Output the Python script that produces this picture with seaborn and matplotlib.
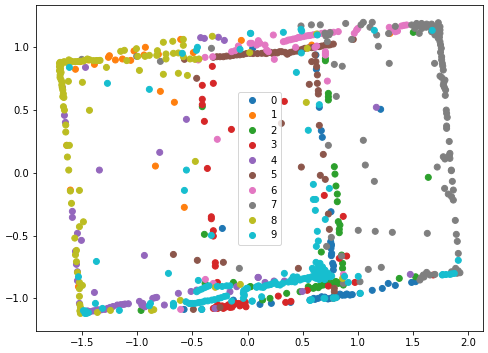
import matplotlib
matplotlib.use("Agg")
import matplotlib.pyplot as plt
import pandas as pd
import seaborn as sns

points_0 = [(.757,-.31),(.754,-.549),(.757,-.602),(.763,-.642),(.772,-.721),(.778,-.774),(1.131,-.936),(1.222,-.921),(1.276,-.881),(1.34,-.897),(1.488,-.873),(1.524,-.867),(.113,-1.048),(.216,-1.04),(.391,-1.032),(.566,-1.013),(.612,-1.008),(.672,-.987),(.748,-1.0),(.838,-.966),(.884,-.974),(.929,-.974),(1.02,-.96),(.624,.825),(.62,.939),(.651,.522),(1.207,.506),(.669,.336),(.678,.283),(.047,.992),(-.228,-.443),(-.575,-1.088),(-.415,-1.088),(-.128,-1.014),
            (.6,-1.0),(.64,-1.0),(.7,-.99),(.73,-1.005),(.78,-.985),(.81,-.99),(.86,-.975),(.9,-.965),(.95,-.97),(.76,-.66),(.78,-.74),(.76,-.58),(.76,-.57)]
points_1 = [(-1.56,.825),(-1.388,.864),(-1.261,.92),(-1.252,.933),(-1.198,.899),(-1.134,.907),(-1.059,.896),(-1.029,.971),(-.926,1.0),(-.938,.939),(-.808,.944),(-.606,1.063),(-.491,.958),(-.056,1.055),(-.79,.649),(-.663,.562),(-.835,.054),(-1.639,.219),(-1.443,.899),(-1.518,.886),(-1.606,-.137),(-.573,-.275),(-1.533,-.907),(1.29,1.11),(.582,1.018)]
points_2 = [(.706,.893),(.706,.911),(.733,.633),(.733,.606),(.733,.58),(.787,.049),(1.503,1.119),(-.41,.527),(1.639,-.036),(.793,-.01),(.802,-.105),(.814,-.169),(.814,-.23),(.823,-.389),(.838,-.416),(.832,-.45),(.832,-.477),(.669,-.631),(.853,-.655),(.862,-.721),(.862,-.761),(1.376,-.841),(1.524,-.828),(.355,-.96),(.204,-1.0),(.137,-1.013),(.029,-.907),(.551,-.907),(.597,-.92),(.642,-.915),(.687,-.894),(.733,-.881),(.778,-.881),(.823,-.881),(.476,-.947),(.869,-.894),(-.391,-.49),(-.965,-1.096),(-.128,-.873),(.023,-.907),(-.385,-.881),
            (.56,-.92),(.62,-.905),(.66,-.9),(.7,-.885),(.75,-.87),(.8,-.865),(.84,-.87)]
points_3 = [(-.319,.848),(-.41,.697),(-.31,.713),(-.41,.586),(-.41,.543),(-.391,.41),(-.146,.346),(-.364,.035),(.334,.569),(-.328,-.35),(-.328,-.366),(-.31,-.461),(-.31,-.504),(-.292,-.716),(-.292,-.743),(-.273,-.873),(-.31,-1.08),(-.249,-1.067),(-.189,-1.061),(-.128,-1.053),(-.083,-1.04),(-.038,-1.027),(-.219,-1.08),(-.159,-1.072),(-.014,-1.067),(.696,-.18),(.868,-.347),(.832,-.681),(.899,-.663),(.279,-.982),(.346,-1.032),(.394,-1.024),(.542,-.936),(.733,-.902),(.974,-.873),(1.684,-.814),
            (-.29,-1.07),(-.27,-1.05),(-.23,-1.06),(-.2,-1.07),(-.17,-1.05),(-.14,-1.07),(-.11,-1.04),(-.07,-1.06),(-.05,-1.05),(-.27,-1.08),(-.02,-1.03)]
points_4 = [(-.425,1.077),(-.391,1.071),(-.264,1.08),(-.21,1.055),(-1.469,.84),(-1.678,.681),(-1.66,.458),(-1.651,.402),(-.554,.426),(-.796,.163),(-1.343,.022),(1.168,.522),(-1.588,-.307),(-1.588,-.355),(-1.542,-.482),(-1.506,-.538),(-1.56,-.626),(-1.551,-.729),(-1.542,-.788),(-1.542,-.859),(-1.388,-.953),(-1.524,-1.04),(-.935,-.658),(-1.473,-1.106),(-1.427,-1.106),(-1.382,-1.098),(-1.337,-1.093),(-1.292,-1.088),(-1.246,-1.072),(-1.18,-1.053),(-1.125,-1.048),(-1.08,-1.043),(-.98,-1.024),(-.959,-1.053),(-.929,-1.067),(-.859,-1.0),(-.823,-.992),(-.754,-1.053),(-.627,-.96),(-.512,-.945),(-.461,-.934),(-.295,-1.08),(-.159,-.947),(-.098,-.907),(.095,-.833),(.098,-.833),(.159,-.873),(.24,-.862),(.334,-.862),(.497,-.945),(1.476,-.809),
            (-1.45,-1.1),(-1.4,-1.1),(-1.36,-1.09),(-1.32,-1.09),(-1.27,-1.08),(-1.22,-1.065),(-1.15,-1.05),(-1.11,-1.045),(-.95,-1.04),(-.94,-1.06),(-.84,-.995)]
points_5 = [(.128,.952),(.189,.957),(.249,.96),(.31,.965),(.37,.952),(.415,.965),(.476,.978),(.521,.992),(.582,.997),(.627,1.005),(.672,1.01),(.733,1.018),(.778,1.026),(.612,.939),(.582,.886),(.62,.886),(.627,.846),(.633,.78),(.56,.705),(.633,.713),(.642,.655),(.642,.628),(.959,1.063),(.307,.394),(.651,.378),(.687,.147),(.488,.046),(-.279,.925),(-.219,.925),(-.159,.93),(-.098,.939),(-.038,.944),(.023,.952),(-.572,.904),(-.461,.753),(.66,-.02),(.705,-.052),(.733,-.328),(.742,-.45),(.461,-.761),(.787,-.92),(.787,-.947),(.778,-1.0),(-.672,-.65),(-.455,-.697),(-.219,-.713),(-.491,-1.088),(-.249,-1.072),
            (.15,.955),(.17,.95),(.21,.96),(.23,.95),(.27,.955),(.29,.965),(.34,.96),(.36,.945),(.39,.96),(.44,.97),(.46,.97),(.5,.985),(.55,.995),(.6,1.0),(.65,1.005),(.7,1.015),(.75,1.02),(-.25,.925),(-.19,.93),(-.13,.935),(-.07,.94),(-.01,.95),(.05,.95),(.09,.95),(-.31,.92)]
points_6 = [(.234,1.098),(.243,.904),(.436,1.0),(.612,1.0),(.627,1.01),(.706,.965),(.706,.938),(.724,.731),(1.285,1.159),(1.397,1.17),(1.442,1.178),(.325,1.045),(.37,1.058),(.415,1.066),(.461,1.079),(.506,1.085),(.551,1.093),(.597,1.1),(.672,1.111),(.748,1.119),(.823,1.125),(.989,1.138),(.968,1.111),(1.34,1.124),(.098,1.045),(.083,1.018),(.113,1.032),(.159,1.018),(.174,.978),(.189,.965),(.038,1.032),(-.385,.92),(-.446,.899),(-.316,.925),(-.144,.965),(-.113,.973),(-.083,1.01),(.023,1.032),(.098,1.053),(-.274,.267),(-.382,-.849),(-.31,-.881),(-.606,-1.088),(.869,-.81),
            (.35,1.05),(.39,1.06),(.44,1.07),(.48,1.08),(.53,1.09),(.57,1.095),(.64,1.105),(.7,1.115),(.78,1.12),(1.0,1.15),(1.31,1.14),(1.36,1.13),(1.42,1.175),(.706,.95)]
points_7 = [(.579,1.179),(.485,1.17),(.66,1.179),(.89,1.19),(1.029,1.179),(1.05,1.199),(1.131,1.199),(1.11,1.16),(1.171,1.098),(.944,1.063),(1.279,1.11),(1.34,1.167),(1.186,1.008),(.724,1.045),(.702,1.111),(.748,1.117),(.787,.864),(.859,.849),(.805,.609),(1.285,.872),(1.696,.872),(.733,.219),(1.05,.259),(1.068,.062),(1.72,.046),(1.848,.022),(1.488,1.178),(1.533,1.19),(1.578,1.19),(1.624,1.185),(1.669,1.185),(1.73,1.196),(1.745,1.164),(1.745,1.138),(1.745,1.111),(1.73,1.071),(1.745,1.045),(1.757,.992),(1.76,.925),(1.766,.872),(1.775,.819),(1.745,.771),(1.79,.739),(1.775,.699),(1.796,.66),(1.793,.617),(1.802,.5),(1.805,.474),(1.811,.442),(1.805,.373),(1.805,.354),(1.829,.25),(1.775,.128),(1.835,.155),(1.835,.115),(1.669,1.124),(1.699,1.098),(1.557,1.111),(1.518,1.151),(1.15,-.068),(1.848,.017),(1.857,-.068),(1.787,-.124),(1.866,-.137),(1.82,-.169),(1.85,-.19),(1.866,-.217),(1.884,-.379),(1.893,-.49),(1.902,-.546),(1.911,-.642),(1.004,-.458),(1.158,-.466),(1.313,-.474),(1.63,-.482),(.76,-.514),(.717,-.586),(.853,-.663),(1.095,-.769),(1.213,-.753),(1.563,-.854),(1.594,-.814),(1.624,-.793),(1.654,-.814),(1.699,-.809),(1.85,-.788),(1.887,-.761),(1.926,-.796),(.869,-.881),(1.02,-.867),(-.074,-.761),(-.79,.888),(-1.005,.928),(-.327,.992),(-1.503,.904),
            (1.55,1.17),(1.6,1.17),(1.65,1.17),(1.7,1.16),(1.72,1.14),(1.7,1.13),(1.72,1.1),(1.74,1.08),(1.75,1.02),(1.75,.96),(1.76,.9),(1.77,.85),(1.76,.76),(1.78,.72),(1.785,.68),(1.62,1.16),(1.67,1.15),(1.58,1.15),(1.83,.14),(1.79,.11),(1.87,-.79),(1.91,-.78),(1.9,-.8),(1.6,-.83),(1.575,-.835),(.74,1.1),(.71,1.09)]
points_8 = [(-1.705,.872),(-1.705,.846),(-1.705,.814),(-1.699,.78),(-1.69,.74),(-1.684,.7),(-1.675,.66),(-1.675,.607),(-1.669,.527),(-1.66,.5),(-1.648,.381),(-1.648,.325),(-1.639,.219),(-1.615,.219),(-1.633,.126),(-1.621,.022),(-1.624,.729),(-1.497,.721),(-1.433,.498),(-1.669,.883),(-1.609,.883),(-1.563,.886),(-1.518,.888),(-1.452,.907),(-1.397,.894),(-1.337,.896),(-1.279,.84),(-1.15,.968),(-1.116,.976),(-1.095,.894),(-1.007,.989),(-.995,.928),(-.98,.816),(-.929,.928),(-.89,.936),(-.817,.973),(-.823,.936),(-.739,.947),(-.739,.907),(-.763,1.04),(-.678,1.048),(-.672,.952),(-.627,.955),(-.582,1.063),(-.582,1.016),(-.763,.785),(-.627,.793),(-.545,.776),(-.582,.925),(-.521,.907),(-.476,.904),(-.44,.907),(-.319,1.088),(.02,.958),(-.473,.091),(.542,.992),(.533,.561),(.627,1.106),(-1.606,-.145),(-1.524,-.14),(-1.596,-.243),(-1.488,-.39),(-1.524,-.429),(-1.566,-.52),(-1.551,-.618),(-1.56,-.653),(-1.551,-.708),(-1.542,-.793),(-1.524,-.873),(-1.497,-.897),(-1.524,-.923),(-1.524,-.984),(-1.515,-1.072),(-1.515,-1.12),(-1.361,-1.112),(-1.243,-1.096),(-.871,-1.096),(-.609,-1.016),(-.292,-.912),(-.065,-.889),(.862,-.841),
            (-1.7,.88),(-1.69,.86),(-1.695,.83),(-1.69,.8),(-1.7,.76),(-1.68,.72),(-1.66,.885),(-1.64,.88),(-1.6,.89),(-1.59,.885),(-1.54,.887),(-1.48,.895),(-1.43,.9),(-1.37,.895),(-1.35,.895),(-1.68,.68),(-1.67,.63),(-1.665,.6),(-1.62,.9),(-1.49,.89),(-1.52,-1.05),(-1.52,-1.1),(-1.51,-1.1),(-.85,-1.09)]
points_9 = [(-1.615,.84),(-1.27,.713),(-.89,.665),(-.591,.952),(-.454,1.0),(-.463,.976),(.026,1.111),(-.068,.984),(-.554,.022),(.029,1.111),(.325,1.119),(.485,1.143),(.491,1.13),(.633,1.098),(.488,.955),(.443,.8),(.651,.543),(.551,.339),(1.15,1.135),(1.675,1.135),(-.572,-.14),(-1.37,-.706),(-1.533,-.828),(-.717,-.801),(-.446,-.857),(-.328,-.498),(-1.379,-1.04),(-1.488,-1.098),(-1.473,-1.12),(-1.443,-1.114),(-1.315,-1.08),(-1.162,-1.096),(-.89,-1.059),(-.672,-1.04),(-.672,-1.061),(-.558,-1.027),(-.521,-1.04),(-.476,-1.04),(-.431,-1.032),(-.385,-1.021),(-.325,-1.014),(-.264,-1.0),(-.189,-.981),(-.415,-1.088),(-.461,-.947),(-.415,-.926),(-.37,-.907),(-.273,-.904),(-.189,-.9),(-.144,-1.022),(-.038,-.96),(-.038,-1.0),(-.008,-.92),(.041,-1.022),(.083,-.912),(.083,-.907),(.143,-.913),(.189,-.894),(.234,-.88),(.295,-.894),(.334,-.801),(.4,-.867),(.415,-.828),(.476,-.854),(.521,-.841),(.582,-.828),(.588,-.761),(.621,-.713),(.657,-.721),(.657,-.761),(.642,-.828),(.702,-.775),(.687,-.828),(.748,-.828),(.763,-.822),(.88,-.825),(.914,-.873),(1.004,-.825),(1.023,-.96),(1.766,-.814),(1.835,-.809),(1.875,-.801),(1.911,-.697),(.566,-1.016),(.693,-.999),(.778,-.995),(.802,-.995),(.043,-1.022),(.128,-.987),(.597,-.092),(.742,-.124),(.597,-.212),(.618,-.212),(.615,-.299),(.705,-.371),(.633,-.466),(.642,-.543),(.624,-.586),
            (.4,-.85),(.43,-.85),(.45,-.85),(.5,-.845),(.55,-.835),(.6,-.83),(.62,-.8),(.6,-.78),(.64,-.75),(.68,-.75),(.66,-.8),(.62,-.84),(.7,-.8),(.72,-.83),(.65,-.85),(.7,-.85),(.73,-.8),(.55,-.85),(.45,-.83),(.1,-.9),(.12,-.91),(.16,-.9),(.21,-.89),(.25,-.87),(.27,-.89),(.32,-.88),(.43,-.87),(.37,-.87),(-.53,-1.04),(-.5,-1.04),(-.45,-1.035),(-.41,-1.03),(-.36,-1.02),(-.3,-1.01),(-.24,-.995),(-.21,-.985),(-.035,-.94),(-.03,-.97),(-.03,-.98),(-.02,-.93),(.0,-.92),(-.44,-.935),(-.39,-.915),(-.35,-.9),(-.23,-.905),(-.16,-.9),(-1.47,-1.1),(-1.46,-1.12),(-.88,-1.04),(-.67,-1.05),(.78,-1.0),(.7,-1.0),(.57,-1.015),(.58,-1.01),(1.85,-.805),(1.8,-.81),(1.77,-.81)]

classes = [points_0, points_1, points_2, points_3, points_4,
           points_5, points_6, points_7, points_8, points_9]
labels = [str(i) for i in range(10)]

rows = []
for name, pts in zip(labels, classes):
    rows += [{"x": p[0], "y": p[1], "digit": name} for p in pts]
df = pd.DataFrame(rows)

W, H = 488, 353
fig = plt.figure(figsize=(W / 72, H / 72), dpi=72)
ax = fig.add_axes([36.3 / W, 1 - 331 / H, (483 - 36.3) / W, 326 / H])
sns.scatterplot(data=df, x="x", y="y", hue="digit", hue_order=labels,
                palette="tab10", s=36, edgecolor="face", linewidth=1, ax=ax)
ax.set_xlim(-1.915, 2.135)
ax.set_ylim(-1.26, 1.337)
ax.set_xticks([-1.5, -1.0, -0.5, 0.0, 0.5, 1.0, 1.5, 2.0])
ax.set_yticks([-1.0, -0.5, 0.0, 0.5, 1.0])
ax.set_xlabel("")
ax.set_ylabel("")
ax.legend(loc="center", fontsize=10)
fig.savefig("out.png", dpi=72)
